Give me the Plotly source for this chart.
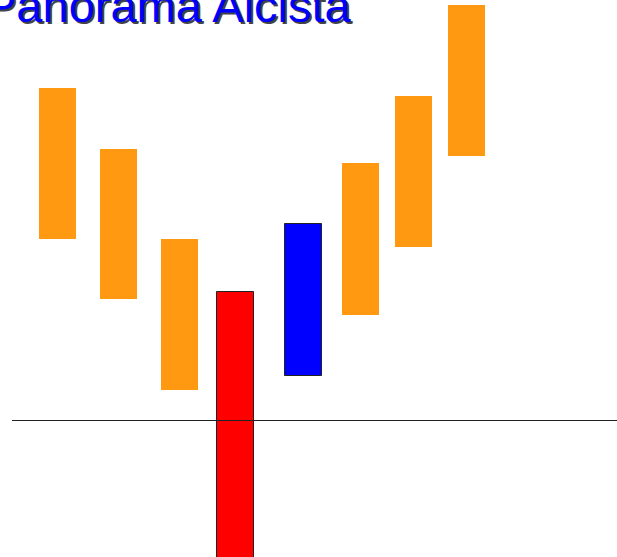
import plotly.graph_objects as go

# data (vertical units: pixels above the horizontal reference line)
orange_x = [57, 118, 179, 360, 413, 466]
orange_top = [333, 272, 182, 258, 325, 416]
orange_bottom = [182, 122, 31, 106, 174, 265]

red_x = [235]
red_top = [129]
red_bottom = [-140]

blue_x = [303]
blue_top = [197]
blue_bottom = [45]

line_x = [12, 617]
line_y = [0.5, 0.5]

title = "Panorama Alcista"

fig = go.Figure()

fig.add_trace(go.Bar(
    x=orange_x, y=[t - b for t, b in zip(orange_top, orange_bottom)], base=orange_bottom,
    width=37, marker=dict(color="#FF9912", line=dict(width=0)), showlegend=False))
fig.add_trace(go.Bar(
    x=red_x, y=[t - b for t, b in zip(red_top, red_bottom)], base=red_bottom,
    width=37, marker=dict(color="#FF0000", line=dict(width=1, color="#222")), showlegend=False))
fig.add_trace(go.Bar(
    x=blue_x, y=[t - b for t, b in zip(blue_top, blue_bottom)], base=blue_bottom,
    width=37, marker=dict(color="#0000FF", line=dict(width=1, color="#222")), showlegend=False))
fig.add_trace(go.Scatter(
    x=line_x, y=line_y, mode="lines", line=dict(color="#222222", width=1),
    showlegend=False, hoverinfo="skip"))

# title with shadow
fig.add_annotation(text=title, xref="paper", yref="paper", x=(-17 + 2) / 617, y=1 - (34 + 2) / 557,
                   xanchor="left", yanchor="bottom", showarrow=False,
                   font=dict(family="Liberation Sans, Arial", size=47, color="#444444"))
fig.add_annotation(text=title, xref="paper", yref="paper", x=-17 / 617, y=1 - 34 / 557,
                   xanchor="left", yanchor="bottom", showarrow=False,
                   font=dict(family="Liberation Sans, Arial", size=47, color="#0000FF"))

fig.update_layout(
    width=617, height=557, margin=dict(l=0, r=0, t=0, b=0),
    paper_bgcolor="white", plot_bgcolor="white", bargap=0,
    xaxis=dict(range=[0, 617], visible=False, fixedrange=True),
    yaxis=dict(range=[-136, 421], visible=False, fixedrange=True),
)

fig.write_html("out.html", config={"displayModeBar": False},
               post_script="document.body.style.margin='0';document.body.style.overflow='hidden';")
